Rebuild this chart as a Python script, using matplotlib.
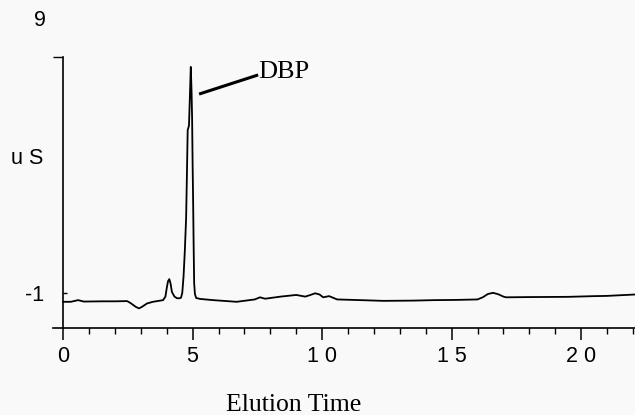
import numpy as np
import matplotlib
matplotlib.use('Agg')
import matplotlib.pyplot as plt

# chromatogram trace (elution time, conductivity uS)
time = [0.0, 0.3, 0.58, 0.8, 1.5, 2.0, 2.47, 2.6, 2.8, 2.93, 3.05, 3.24,
        3.47, 3.86, 3.95, 4.0, 4.05, 4.10, 4.15, 4.2, 4.3, 4.4, 4.5, 4.55,
        4.6, 4.65, 4.7, 4.75, 4.78, 4.81, 4.86, 4.9, 4.93, 4.96, 4.98, 5.0,
        5.02, 5.04, 5.06, 5.09, 5.14, 5.3, 5.8, 6.7, 7.4, 7.6, 7.8, 8.4,
        9.0, 9.35, 9.55, 9.73, 9.9, 10.04, 10.27, 10.58, 11.5, 12.36, 13.5,
        14.3, 15.2, 16.0, 16.2, 16.4, 16.6, 16.8, 17.0, 17.1, 18.0, 19.5,
        20.5, 21.0, 22.1]
signal = [-1.37, -1.37, -1.30, -1.36, -1.35, -1.35, -1.34, -1.42, -1.58,
          -1.65, -1.58, -1.44, -1.37, -1.30, -1.15, -0.80, -0.50, -0.41,
          -0.60, -0.95, -1.15, -1.22, -1.22, -1.20, -1.00, -0.30, 0.80,
          2.20, 4.00, 5.90, 6.10, 7.50, 8.58, 7.50, 6.46, 4.50, 2.90, 1.00,
          -0.58, -1.05, -1.21, -1.25, -1.30, -1.37, -1.27, -1.18, -1.24,
          -1.15, -1.08, -1.15, -1.08, -1.01, -1.06, -1.18, -1.13, -1.27,
          -1.30, -1.33, -1.32, -1.30, -1.29, -1.27, -1.18, -1.04, -0.99,
          -1.05, -1.15, -1.18, -1.17, -1.16, -1.13, -1.12, -1.06]

x_ticks = [0, 5, 10, 15, 20]
x_ticklabels = ['0', '5', '1 0', '1 5', '2 0']
y_ticks = [-1]
y_ticklabels = ['-1']
peak_label = 'DBP'
peak_line = ([5.25, 7.53], [7.43, 8.24])

bg = '#f9f9f9'
fig = plt.figure(figsize=(6.35, 4.15), dpi=100, facecolor=bg)
ax = fig.add_axes([53 / 635, 87 / 415, 582 / 635, 271 / 415], facecolor=bg)

ax.plot(time, signal, color='k', lw=1.3)
ax.plot(peak_line[0], peak_line[1], color='k', lw=2.2, solid_capstyle='butt')
ax.text(7.55, 8.1, peak_label, family='Liberation Serif', fontsize=19,
        va='baseline', ha='left')

ax.set_xlim(-0.39, 22.08)
ax.set_ylim(-2.48, 9)

for s in ['top', 'right']:
    ax.spines[s].set_visible(False)
ax.spines['left'].set_position(('data', 0))
ax.spines['left'].set_linewidth(1.2)
ax.spines['bottom'].set_linewidth(1.2)

sans = 'Liberation Sans'
ax.set_xticks(x_ticks)
ax.set_xticklabels(x_ticklabels, family=sans, fontsize=15.5)
ax.set_xticks(np.arange(0, 23, 1), minor=True)
ax.tick_params(axis='x', which='major', direction='out', length=8.6, width=1.1, pad=4)
ax.tick_params(axis='x', which='minor', direction='out', length=4.3, width=1.0)

ax.set_yticks(y_ticks)
ax.set_yticklabels(y_ticklabels, family=sans, fontsize=15.5)
ax.set_yticks([9], minor=True)
ax.tick_params(axis='y', which='major', direction='in', length=3, width=1.0, pad=14)
ax.tick_params(axis='y', which='minor', direction='out', length=7.2, width=1.0)

fig.text(40 / 635, 1 - 20 / 415, '9', family=sans, fontsize=15.5, ha='center', va='center')
fig.text(27 / 635, 1 - 158 / 415, 'u S', family=sans, fontsize=15.5, ha='center', va='center')
fig.text(294 / 635, 1 - 405 / 415, 'Elution Time', family='Liberation Serif',
         fontsize=18.5, ha='center', va='center')

fig.savefig('out.png', dpi=100, facecolor=bg)
